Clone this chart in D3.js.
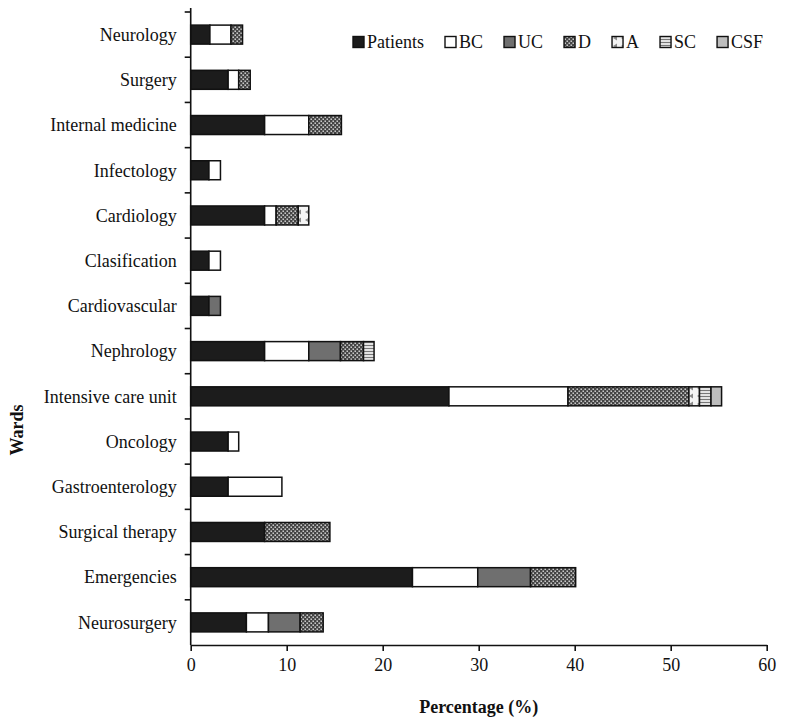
<!DOCTYPE html>
<html>
<head>
<meta charset="utf-8">
<script src="https://cdn.jsdelivr.net/npm/d3@7"></script>
<style>
  body { margin: 0; background: #fff; }
  text { font-family: "Liberation Serif", "Times New Roman", serif; fill: #111; }
</style>
</head>
<body>
<script>
// wards, top to bottom
const wards = ["Neurology", "Surgery", "Internal medicine", "Infectology", "Cardiology",
    "Clasification", "Cardiovascular", "Nephrology", "Intensive care unit", "Oncology",
    "Gastroenterology", "Surgical therapy", "Emergencies", "Neurosurgery"];
const seriesNames = ["Patients", "BC", "UC", "D", "A", "SC", "CSF"];
// percentage per series, in ward order
const patients = [2.0, 3.9, 7.7, 1.9, 7.7, 1.9, 1.9, 7.7, 26.9, 3.9, 3.9, 7.7, 23.1, 5.8];
const bc       = [2.2, 1.1, 4.6, 1.2, 1.2, 1.2, 0,   4.6, 12.4, 1.1, 5.6, 0,   6.8, 2.3];
const uc       = [0,   0,   0,   0,   0,   0,   1.2, 3.3, 0,    0,   0,   0,   5.5, 3.3];
const d        = [1.2, 1.2, 3.4, 0,   2.3, 0,   0,   2.4, 12.6, 0,   0,   6.8, 4.7, 2.4];
const a        = [0,   0,   0,   0,   1.1, 0,   0,   0,   1.1,  0,   0,   0,   0,   0];
const sc       = [0,   0,   0,   0,   0,   0,   0,   1.1, 1.2,  0,   0,   0,   0,   0];
const csf      = [0,   0,   0,   0,   0,   0,   0,   0,   1.1,  0,   0,   0,   0,   0];
const xTicks = [0, 10, 20, 30, 40, 50, 60];

const width = 787, height = 727;
const margin = { top: 12, right: 20.3, bottom: 82, left: 190.7 };

const rows = wards.map((w, i) => ({
    ward: w, Patients: patients[i], BC: bc[i], UC: uc[i], D: d[i],
    A: a[i], SC: sc[i], CSF: csf[i]
}));

const svg = d3.select("body").append("svg")
    .attr("width", width)
    .attr("height", height);

// fill patterns
const defs = svg.append("defs");
const pD = defs.append("pattern").attr("id", "patD")
    .attr("patternUnits", "userSpaceOnUse").attr("width", 4).attr("height", 4);
pD.append("rect").attr("width", 4).attr("height", 4).attr("fill", "#444");
pD.append("rect").attr("x", 0.5).attr("y", 0.5).attr("width", 1.4).attr("height", 1.4).attr("fill", "#e8e8e8");
pD.append("rect").attr("x", 2.5).attr("y", 2.5).attr("width", 1.4).attr("height", 1.4).attr("fill", "#e8e8e8");

const pA = defs.append("pattern").attr("id", "patA")
    .attr("patternUnits", "userSpaceOnUse").attr("width", 8).attr("height", 8);
pA.append("rect").attr("width", 8).attr("height", 8).attr("fill", "#f4f4f4");
pA.append("path").attr("d", "M1,4 L5,1.5 L5,6.5 Z").attr("fill", "#8a8a8a");

const pSC = defs.append("pattern").attr("id", "patSC")
    .attr("patternUnits", "userSpaceOnUse").attr("width", 4).attr("height", 3);
pSC.append("rect").attr("width", 4).attr("height", 3).attr("fill", "#e2e2e2");
pSC.append("rect").attr("y", 0).attr("width", 4).attr("height", 1).attr("fill", "#777");

const fills = {
    Patients: "#1c1c1c", BC: "#ffffff", UC: "#6f6f6f", D: "url(#patD)",
    A: "url(#patA)", SC: "url(#patSC)", CSF: "#bdbdbd"
};

const x = d3.scaleLinear()
    .domain([0, 60])
    .range([margin.left, width - margin.right]);

const y = d3.scaleBand()
    .domain(wards)
    .range([margin.top, height - margin.bottom])
    .padding(0);

const barH = y.bandwidth() * 0.42;

const stacked = d3.stack().keys(seriesNames)(rows);

// bars
const layers = svg.append("g")
    .selectAll("g")
    .data(stacked)
    .join("g")
    .attr("fill", s => fills[s.key]);

layers.selectAll("rect")
    .data(s => s.filter(p => p[1] - p[0] > 0))
    .join("rect")
    .attr("x", p => x(p[0]))
    .attr("y", p => y(p.data.ward) + (y.bandwidth() - barH) / 2)
    .attr("width", p => x(p[1]) - x(p[0]))
    .attr("height", barH)
    .attr("stroke", "#111")
    .attr("stroke-width", 1.5);

// x axis
const xAxis = svg.append("g")
    .attr("transform", `translate(0,${height - margin.bottom})`)
    .call(d3.axisBottom(x).tickValues(xTicks).tickSize(6).tickSizeOuter(0));
xAxis.select(".domain").attr("stroke", "#111").attr("stroke-width", 1.6);
xAxis.selectAll(".tick line").attr("stroke", "#111").attr("stroke-width", 1.6);
xAxis.selectAll(".tick text")
    .attr("font-family", "Liberation Serif")
    .attr("font-size", 18)
    .attr("fill", "#111")
    .attr("dy", "0.95em");

// y axis: ticks between wards
const yAxis = svg.append("g");
yAxis.append("line")
    .attr("x1", margin.left).attr("x2", margin.left)
    .attr("y1", margin.top - 4).attr("y2", height - margin.bottom)
    .attr("stroke", "#111").attr("stroke-width", 1.6);
yAxis.selectAll("line.tick")
    .data(wards)
    .join("line")
    .attr("class", "tick")
    .attr("x1", margin.left - 6).attr("x2", margin.left)
    .attr("y1", w => y(w)).attr("y2", w => y(w))
    .attr("stroke", "#111").attr("stroke-width", 1.6);
yAxis.selectAll("text")
    .data(wards)
    .join("text")
    .attr("x", margin.left - 14)
    .attr("y", w => y(w) + y.bandwidth() / 2)
    .attr("dy", "0.35em")
    .attr("text-anchor", "end")
    .attr("font-size", 18)
    .text(w => w);

// axis titles
svg.append("text")
    .attr("x", (x.range()[0] + x.range()[1]) / 2)
    .attr("y", 713)
    .attr("text-anchor", "middle")
    .attr("font-size", 18)
    .attr("font-weight", "bold")
    .text("Percentage (%)");

svg.append("text")
    .attr("transform", "translate(23,430) rotate(-90)")
    .attr("text-anchor", "middle")
    .attr("font-size", 18)
    .attr("font-weight", "bold")
    .text("Wards");

// legend
const legend = svg.append("g").attr("transform", "translate(353,42)");
let lx = 0;
seriesNames.forEach(name => {
    const item = legend.append("g").attr("transform", `translate(${lx},0)`);
    item.append("rect")
        .attr("x", 0).attr("y", -5.5)
        .attr("width", 11).attr("height", 11)
        .attr("fill", fills[name])
        .attr("stroke", "#111").attr("stroke-width", 1.4);
    const t = item.append("text")
        .attr("x", 14)
        .attr("dy", "0.35em")
        .attr("font-size", 18)
        .text(name);
    lx += 14 + t.node().getComputedTextLength() + 21;
});
</script>
</body>
</html>
